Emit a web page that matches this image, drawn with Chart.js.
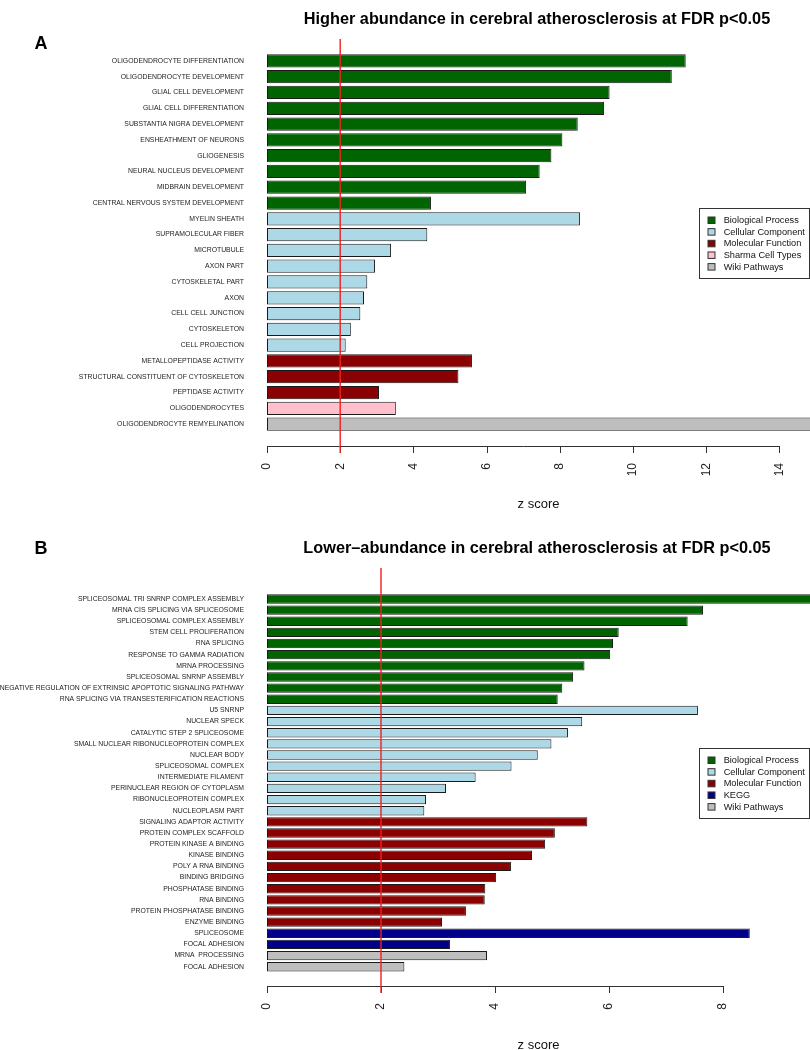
<!DOCTYPE html>
<html>
<head>
<meta charset="utf-8">
<script src="https://cdn.jsdelivr.net/npm/chart.js@4.4.1/dist/chart.umd.min.js"></script>
<style>
  body { margin: 0; background: #fff; }
  #wrap { position: relative; width: 810px; height: 1050px; }
  canvas { position: absolute; left: 0; }
</style>
</head>
<body>
<div id="wrap">
  <canvas id="chartA" width="810" height="525" style="top:0"></canvas>
  <canvas id="chartB" width="810" height="525" style="top:525px"></canvas>
</div>
<script>
// ==========================================
// DATA
// ==========================================
const titleA = 'Higher abundance in cerebral atherosclerosis at FDR p<0.05';
const labelsA = [
  'OLIGODENDROCYTE DIFFERENTIATION', 'OLIGODENDROCYTE DEVELOPMENT', 'GLIAL CELL DEVELOPMENT',
  'GLIAL CELL DIFFERENTIATION', 'SUBSTANTIA NIGRA DEVELOPMENT', 'ENSHEATHMENT OF NEURONS',
  'GLIOGENESIS', 'NEURAL NUCLEUS DEVELOPMENT', 'MIDBRAIN DEVELOPMENT',
  'CENTRAL NERVOUS SYSTEM DEVELOPMENT', 'MYELIN SHEATH', 'SUPRAMOLECULAR FIBER',
  'MICROTUBULE', 'AXON PART', 'CYTOSKELETAL PART', 'AXON', 'CELL CELL JUNCTION',
  'CYTOSKELETON', 'CELL PROJECTION', 'METALLOPEPTIDASE ACTIVITY',
  'STRUCTURAL CONSTITUENT OF CYTOSKELETON', 'PEPTIDASE ACTIVITY', 'OLIGODENDROCYTES',
  'OLIGODENDROCYTE REMYELINATION'
];
const valuesA = [11.44, 11.06, 9.36, 9.21, 8.49, 8.07, 7.77, 7.45, 7.08, 4.48,
                 8.55, 4.38, 3.39, 2.95, 2.74, 2.65, 2.55, 2.29, 2.15,
                 5.60, 5.23, 3.06, 3.52, 15.2];
const groupA = [0, 0, 0, 0, 0, 0, 0, 0, 0, 0, 1, 1, 1, 1, 1, 1, 1, 1, 1, 2, 2, 2, 3, 4];
const legendA = ['Biological Process', 'Cellular Component', 'Molecular Function', 'Sharma Cell Types', 'Wiki Pathways'];
const ticksA = [0, 2, 4, 6, 8, 10, 12, 14];

const titleB = 'Lower\u2013abundance in cerebral atherosclerosis at FDR p<0.05';
const labelsB = [
  'SPLICEOSOMAL TRI SNRNP COMPLEX ASSEMBLY', 'MRNA CIS SPLICING VIA SPLICEOSOME',
  'SPLICEOSOMAL COMPLEX ASSEMBLY', 'STEM CELL PROLIFERATION', 'RNA SPLICING',
  'RESPONSE TO GAMMA RADIATION', 'MRNA PROCESSING', 'SPLICEOSOMAL SNRNP ASSEMBLY',
  'NEGATIVE REGULATION OF EXTRINSIC APOPTOTIC SIGNALING PATHWAY',
  'RNA SPLICING VIA TRANSESTERIFICATION REACTIONS', 'U5 SNRNP', 'NUCLEAR SPECK',
  'CATALYTIC STEP 2 SPLICEOSOME', 'SMALL NUCLEAR RIBONUCLEOPROTEIN COMPLEX', 'NUCLEAR BODY',
  'SPLICEOSOMAL COMPLEX', 'INTERMEDIATE FILAMENT', 'PERINUCLEAR REGION OF CYTOPLASM',
  'RIBONUCLEOPROTEIN COMPLEX', 'NUCLEOPLASM PART', 'SIGNALING ADAPTOR ACTIVITY',
  'PROTEIN COMPLEX SCAFFOLD', 'PROTEIN KINASE A BINDING', 'KINASE BINDING',
  'POLY A RNA BINDING', 'BINDING BRIDGING', 'PHOSPHATASE BINDING', 'RNA BINDING',
  'PROTEIN PHOSPHATASE BINDING', 'ENZYME BINDING', 'SPLICEOSOME', 'FOCAL ADHESION',
  'MRNA  PROCESSING', 'FOCAL ADHESION'
];
const valuesB = [9.8, 7.65, 7.38, 6.17, 6.07, 6.02, 5.57, 5.37, 5.18, 5.10,
                 7.56, 5.53, 5.28, 4.99, 4.75, 4.29, 3.66, 3.14, 2.79, 2.76,
                 5.62, 5.05, 4.88, 4.65, 4.28, 4.02, 3.83, 3.82, 3.49, 3.07,
                 8.47, 3.21, 3.86, 2.41];
const groupB = [0, 0, 0, 0, 0, 0, 0, 0, 0, 0, 1, 1, 1, 1, 1, 1, 1, 1, 1, 1,
                2, 2, 2, 2, 2, 2, 2, 2, 2, 2, 3, 3, 4, 4];
const legendB = ['Biological Process', 'Cellular Component', 'Molecular Function', 'KEGG', 'Wiki Pathways'];
const ticksB = [0, 2, 4, 6, 8];

const cutoff = 2;

// colours (R: darkgreen, lightblue, darkred, pink / darkblue, gray)
const coloursA = ['#006400', '#ADD8E6', '#8B0000', '#FFC0CB', '#BEBEBE'];
const coloursB = ['#006400', '#ADD8E6', '#8B0000', '#00008B', '#BEBEBE'];

const FONT = '"Liberation Sans", Arial, Helvetica, sans-serif';

// ==========================================
// PLUGIN: title, letter, cutoff line, axis, legend
// ==========================================
const panelDeco = {
  id: 'panelDeco',
  afterDatasetsDraw(chart, args, o) {
    const ctx = chart.ctx;
    const xs = chart.scales.x;
    ctx.save();

    // axis line only from first to last tick, like R
    const ticks = o.ticks;
    const x0 = Math.round(xs.getPixelForValue(ticks[0])) + 0.5;
    const x1 = Math.round(xs.getPixelForValue(ticks[ticks.length - 1])) + 0.5;
    ctx.strokeStyle = '#333';
    ctx.lineWidth = 1;
    ctx.beginPath();
    ctx.moveTo(x0, o.axisY + 0.5);
    ctx.lineTo(x1, o.axisY + 0.5);
    ticks.forEach(v => {
      const px = Math.round(xs.getPixelForValue(v)) + 0.5;
      ctx.moveTo(px, o.axisY);
      ctx.lineTo(px, o.axisY + 7);
    });
    ctx.stroke();

    // red line at z = 2
    const rx = xs.getPixelForValue(cutoff);
    ctx.strokeStyle = '#f02020';
    ctx.lineWidth = 1.4;
    ctx.beginPath();
    ctx.moveTo(rx, o.lineTop);
    ctx.lineTo(rx, o.lineBottom);
    ctx.stroke();
    ctx.restore();
  },
  afterDraw(chart, args, o) {
    const ctx = chart.ctx;
    ctx.save();
    ctx.fillStyle = '#000';
    ctx.textBaseline = 'alphabetic';

    // title + panel letter
    ctx.font = 'bold 16.3px ' + FONT;
    ctx.textAlign = 'center';
    ctx.fillText(o.title, o.titleX, o.titleY);
    ctx.font = 'bold 18px ' + FONT;
    ctx.fillText(o.letter, 41, o.letterY);

    // legend
    const L = o.legend;
    ctx.strokeStyle = '#333';
    ctx.lineWidth = 1;
    ctx.strokeRect(L.x + 0.5, L.y + 0.5, L.w, L.h);
    ctx.font = '9.2px ' + FONT;
    ctx.textAlign = 'left';
    ctx.textBaseline = 'middle';
    L.names.forEach((name, i) => {
      const cy = L.y + 12 + i * 11.65;
      ctx.fillStyle = L.colours[i];
      ctx.fillRect(L.x + 9, cy - 3, 7, 6.5);
      ctx.strokeRect(L.x + 9, cy - 3, 7, 6.5);
      ctx.fillStyle = '#111';
      ctx.fillText(name, L.x + 24.7, cy + 0.5);
    });
    ctx.restore();
  }
};

// ==========================================
// CHART BUILDER
// ==========================================
function createPanel(id, p) {
  const canvas = document.getElementById(id);
  return new Chart(canvas.getContext('2d'), {
    type: 'bar',
    data: {
      labels: p.labels,
      datasets: [{
        data: p.values,
        backgroundColor: p.group.map(g => p.colours[g]),
        borderColor: '#1a1a1a',
        borderWidth: 1,
        borderSkipped: false,
        barPercentage: 0.84,
        categoryPercentage: 1
      }]
    },
    options: {
      indexAxis: 'y',
      responsive: false,
      animation: false,
      devicePixelRatio: 1,
      layout: { padding: { top: p.top, left: 0, right: 0, bottom: 0 } },
      plugins: {
        legend: { display: false },
        tooltip: { enabled: false },
        panelDeco: {
          title: p.title, titleX: 537, titleY: p.titleY,
          letter: p.letter, letterY: p.letterY,
          ticks: p.ticks, axisY: p.axisY,
          lineTop: p.lineTop, lineBottom: p.lineBottom,
          legend: { x: 699, y: p.legendY, w: 110, h: 70, names: p.legendNames, colours: p.colours }
        }
      },
      scales: {
        y: {
          grid: { display: false, drawTicks: false },
          border: { display: false },
          ticks: { autoSkip: false, padding: 23, color: '#222', font: { family: FONT, size: 6.85 } },
          afterFit: s => { s.width = 267; s.paddingTop = 0; s.paddingBottom = 0; }
        },
        x: {
          type: 'linear',
          min: 0,
          max: p.max,
          grid: { display: false, drawTicks: false },
          border: { display: false },
          afterBuildTicks: s => { s.ticks = p.ticks.map(v => ({ value: v })); },
          ticks: {
            autoSkip: false, minRotation: 90, maxRotation: 90, padding: p.tickPad,
            color: '#222', font: { family: FONT, size: 12 }
          },
          title: {
            display: true, text: 'z score', color: '#111',
            font: { family: FONT, size: 13 }, padding: { top: 0, bottom: p.titlePad }
          },
          // no extra room for the last rotated label, plot runs to the edge
          afterFit: s => { s.height = p.axisH; s.paddingLeft = 0; s.paddingRight = 0; }
        }
      }
    },
    plugins: [panelDeco]
  });
}

createPanel('chartA', {
  labels: labelsA, values: valuesA, group: groupA, colours: coloursA, legendNames: legendA,
  ticks: ticksA, max: 543 / 36.6, title: titleA, titleY: 24, letter: 'A', letterY: 49,
  top: 53, axisH: 93, tickPad: 31, titlePad: 13.2, axisY: 446,
  lineTop: 39, lineBottom: 453, legendY: 208
});

createPanel('chartB', {
  labels: labelsB, values: valuesB, group: groupB, colours: coloursB, legendNames: legendB,
  ticks: ticksB, max: 543 / 57.0, title: titleB, titleY: 28, letter: 'B', letterY: 29,
  top: 68.4, axisH: 77.7, tickPad: 30.7, titlePad: -2.8, axisY: 461,
  lineTop: 43, lineBottom: 468, legendY: 223
});
</script>
</body>
</html>
